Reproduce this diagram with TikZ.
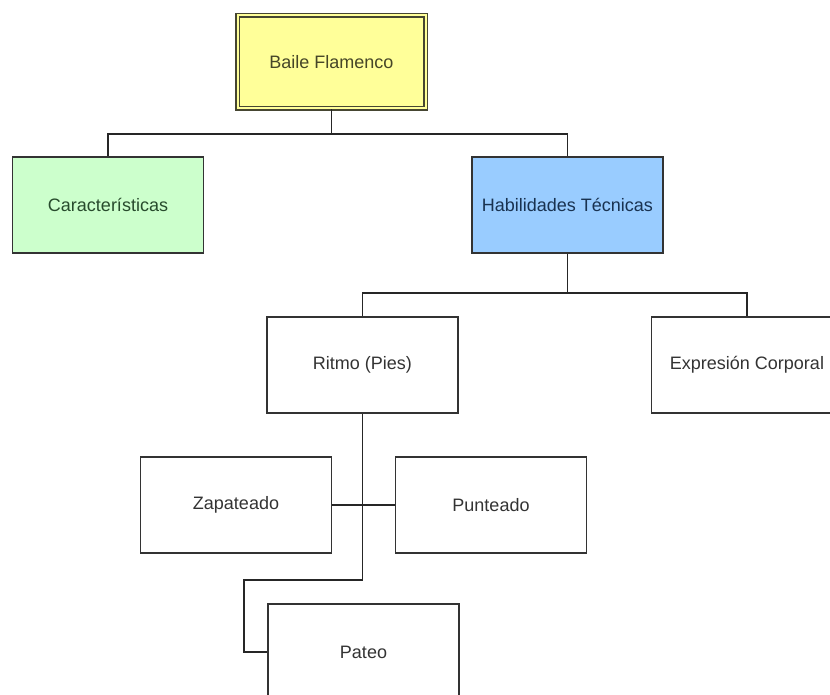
\documentclass[tikz,border=0pt]{standalone}
\usepackage{fontspec}
\setmainfont{Liberation Sans}
\begin{document}
\begin{tikzpicture}[x=1pt,y=-1pt,
  box/.style={draw=black!80,line width=1.3pt,minimum width=191pt,minimum height=96pt,inner sep=0pt,
    font=\fontsize{18}{20}\selectfont,text=black!80},
  conn/.style={draw=black!85,line width=1.6pt}]
\useasboundingbox (0,0) rectangle (830,695);
\clip (0,0) rectangle (830,695);
\node[box,fill={rgb,255:red,255;green,255;blue,153},draw={rgb,255:red,70;green,70;blue,50},line width=1.5pt,
  double={rgb,255:red,255;green,255;blue,153},double distance=2pt,minimum width=188pt,minimum height=93pt,
  text={rgb,255:red,70;green,70;blue,40}] (top) at (331.5,62) {Baile Flamenco};
\node[box,fill={rgb,255:red,204;green,255;blue,204},text={rgb,255:red,40;green,75;blue,45}] (car) at (108,205) {Características};
\node[box,fill={rgb,255:red,153;green,204;blue,255},text={rgb,255:red,25;green,50;blue,80}] (hab) at (567.5,205) {Habilidades Técnicas};
\node[box] (rit) at (362.5,365) {Ritmo (Pies)};
\node[box] (exp) at (747,365) {Expresión Corporal};
\node[box] (zap) at (236,505) {Zapateado};
\node[box] (pun) at (491,505) {Punteado};
\node[box] (pat) at (363.5,652) {Pateo};
\coordinate (b1) at (331.5,134);
\coordinate (b2) at (567.5,293);
\coordinate (b3) at (362.5,580);
\coordinate (b4) at (244,580);
\draw[conn] (top.south) -- (b1);
\draw[conn] (car.north) |- (b1) -| (hab.north);
\draw[conn] (hab.south) -- (b2);
\draw[conn] (rit.north) |- (b2) -| (exp.north);
\draw[conn] (zap.east) -- (pun.west);
\draw[conn] (rit.south) -- (b3) -- (b4) |- (pat.west);
\end{tikzpicture}
\end{document}
